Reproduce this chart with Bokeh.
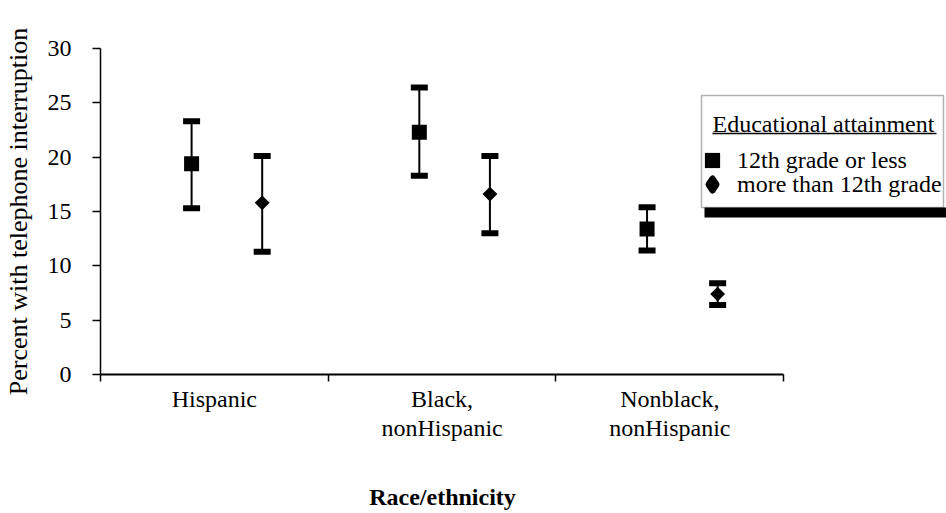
import math
from bokeh.plotting import figure
from bokeh.models import (Range1d, FixedTicker, Legend, LegendItem, BoxAnnotation, Label,
                          ColumnDataSource)
from bokeh.embed import file_html
from bokeh.resources import INLINE

# ---- data ----
categories = ["Hispanic", "Black,\nnonHispanic", "Nonblack,\nnonHispanic"]
series_names = ["12th grade or less", "more than 12th grade"]
low_edu_mean = [19.4, 22.3, 13.4]
low_edu_lower = [15.3, 18.3, 11.4]
low_edu_upper = [23.3, 26.4, 15.4]
high_edu_mean = [15.8, 16.6, 7.4]
high_edu_lower = [11.3, 13.0, 6.4]
high_edu_upper = [20.1, 20.1, 8.4]
y_ticks = [0, 5, 10, 15, 20, 25, 30]
legend_title = "Educational attainment"
x_title = "Race/ethnicity"
y_title = "Percent with telephone interruption"

FONT = "Liberation Serif"

# ---- layout ----
W, H = 946, 513
LEFT, TOP, BOTTOM = 99, 48, 137
AXIS_PX = 684                       # pixel length of the category axis
FRAME_W = W - LEFT
n = len(categories)

centers = [i + 0.5 for i in range(n)]
bounds = [float(i) for i in range(n + 1)]
dodge_low, dodge_high = -0.10, 0.21

src_low = ColumnDataSource(dict(x=[c + dodge_low for c in centers], m=low_edu_mean,
                                lo=low_edu_lower, hi=low_edu_upper))
src_high = ColumnDataSource(dict(x=[c + dodge_high for c in centers], m=high_edu_mean,
                                 lo=high_edu_lower, hi=high_edu_upper))

p = figure(width=W, height=H, x_range=Range1d(0, n * FRAME_W / AXIS_PX),
           y_range=Range1d(y_ticks[0], y_ticks[-1]),
           output_backend="svg", toolbar_location=None,
           min_border_left=LEFT, min_border_right=0, min_border_top=TOP,
           min_border_bottom=BOTTOM)
p.xgrid.visible = False
p.ygrid.visible = False
p.outline_line_color = None
p.background_fill_color = "white"

# y axis
ya = p.yaxis[0]
ya.ticker = FixedTicker(ticks=y_ticks, minor_ticks=[])
ya.major_tick_out = 8
ya.major_tick_in = 0
ya.major_tick_line_width = 1.5
ya.axis_line_width = 1.5
ya.major_label_standoff = 21
ya.major_label_text_font = FONT
ya.major_label_text_font_size = "24px"
ya.major_label_text_color = "black"
ya.axis_label = y_title
ya.axis_label_text_font = FONT
ya.axis_label_text_font_size = "26px"
ya.axis_label_text_font_style = "normal"
ya.axis_label_text_color = "black"
ya.axis_label_standoff = 12

# x axis (category boundaries as minor ticks, names at band centres)
xa = p.xaxis[0]
xa.bounds = (0, n)
xa.ticker = FixedTicker(ticks=centers, minor_ticks=bounds)
xa.major_tick_out = 0
xa.major_tick_in = 0
xa.minor_tick_out = 7
xa.minor_tick_in = 0
xa.minor_tick_line_width = 1.5
xa.minor_tick_line_color = "black"
xa.axis_line_width = 2
xa.major_label_overrides = {c: lab for c, lab in zip(centers, categories)}
xa.major_label_text_font = FONT
xa.major_label_text_font_size = "24px"
xa.major_label_text_color = "black"
xa.major_label_text_line_height = 1.15
xa.major_label_standoff = 4
# the frame runs on under the legend, so pad the title on its right with no-break
# spaces to keep it centred under the three categories
xa.axis_label = x_title + "\u00a0" * 27
xa.axis_label_text_font = FONT
xa.axis_label_text_font_size = "24px"
xa.axis_label_text_font_style = "bold"
xa.axis_label_text_color = "black"
xa.axis_label_standoff = 40

# error bars
for src in (src_low, src_high):
    p.segment(x0="x", y0="lo", x1="x", y1="hi", source=src, line_color="black", line_width=2)
    for col in ("hi", "lo"):
        p.rect(x="x", y=col, width=17, height=6, width_units="screen", height_units="screen",
               source=src, fill_color="black", line_color=None)

r_low = p.scatter(x="x", y="m", source=src_low, marker="square", size=15,
                  fill_color="black", line_color=None)
r_high = p.scatter(x="x", y="m", source=src_high, marker="square", angle=math.pi / 4, size=10.5,
                   fill_color="black", line_color=None)
# legend-only key for the diamond symbol (no visible point)
key_src = ColumnDataSource(dict(x=[float("nan")], y=[float("nan")]))
r_high_key = p.scatter(x="x", y="y", source=key_src, marker="diamond", size=14,
                       fill_color="black", line_color="black", line_width=6, line_join="round")

# legend: box, shadow, title, underline, items  (screen units: frame-relative, y up)
FB = H - BOTTOM
def sy(y):
    return FB - y
def sx(x):
    return x - LEFT

def sbox(l, r, t, b, **kw):
    return BoxAnnotation(left=sx(l), right=sx(r), top=sy(t), bottom=sy(b),
                         left_units="screen", right_units="screen",
                         top_units="screen", bottom_units="screen", **kw)

p.add_layout(sbox(700, 942, 97, 209, fill_color="white", fill_alpha=1,
                  line_color="black", line_width=1.5))
p.add_layout(sbox(703, 946, 209, 219, fill_color="black", fill_alpha=1, line_color=None))

for item, rend, cy, gl in ((series_names[0], r_low, 162, 38), (series_names[1], r_high_key, 186, 30)):
    lg = Legend(items=[LegendItem(label=item, renderers=[rend])],
                location=(sx(711 - gl / 2), sy(cy + gl / 2)),
                label_text_font=FONT, label_text_font_size="24px", label_text_color="black",
                border_line_color=None, background_fill_alpha=0.0,
                padding=0, spacing=0, margin=0,
                glyph_height=gl, glyph_width=gl, label_standoff=6 + (38 - gl) // 2,
                label_height=gl)
    p.add_layout(lg)

p.add_layout(Label(x=sx(711), y=sy(125), x_units="screen", y_units="screen",
                   text=legend_title, text_font=FONT, text_font_size="24px",
                   text_color="black", text_baseline="middle", text_align="left"))
p.add_layout(sbox(711, 935, 134.3, 135.7, fill_color="black", fill_alpha=1, line_color=None))

open("out.html", "w").write(file_html(p, INLINE))
